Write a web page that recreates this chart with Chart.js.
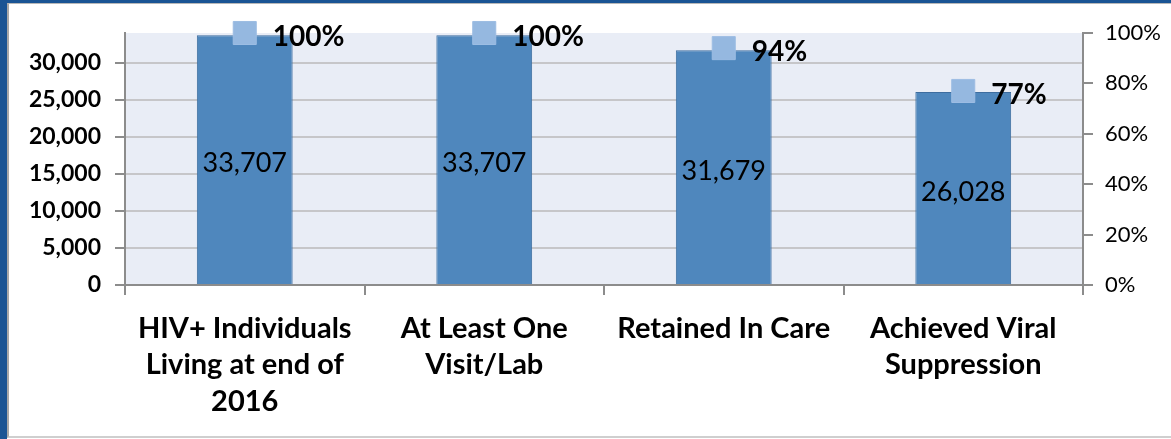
<!DOCTYPE html>
<html>
<head>
<meta charset="utf-8">
<script src="https://cdn.jsdelivr.net/npm/chart.js@4/dist/chart.umd.min.js"></script>
<style>
    body { margin: 0; background: #fff; }
    #frame { position: absolute; left: 0; top: 0; width: 1171px; height: 439px; box-sizing: border-box;
             border-left: 7px solid #1a5494; border-top: 3px solid #1a5494; }
    #inner { position: absolute; left: 0; top: 0; right: 0; bottom: 1px; box-sizing: border-box;
             border-left: 2px solid #a8a8a8; border-top: 1px solid #b8b8b8; border-bottom: 2px solid #cfcfcf; }
    #wrap { position: absolute; left: 0; top: 0; width: 1171px; height: 439px; }
</style>
</head>
<body>
<div id="frame"><div id="inner"></div></div>
<div id="wrap"><canvas id="cascade-chart"></canvas></div>
<script>
const categories = [
    ['HIV+ Individuals', 'Living at end of', '2016'],
    ['At Least One', 'Visit/Lab'],
    ['Retained In Care'],
    ['Achieved Viral', 'Suppression']
];
const patientCounts = [33707, 33707, 31679, 26028];
const percentOfTotal = [1.00, 1.00, 0.94, 0.77];
const countTicks = [0, 5000, 10000, 15000, 20000, 25000, 30000];
const percentTicks = [0, 0.2, 0.4, 0.6, 0.8, 1.0];

const FONT = 'Lato, "Open Sans", sans-serif';

const plotBackground = {
    id: 'plotBackground',
    beforeDraw(chart) {
        const { ctx, chartArea: a } = chart;
        ctx.save();
        ctx.fillStyle = '#e9edf6';
        ctx.fillRect(a.left, a.top, a.right - a.left, a.bottom - a.top);
        ctx.restore();
    }
};

const valueLabels = {
    id: 'valueLabels',
    afterDatasetsDraw(chart) {
        const ctx = chart.ctx;
        ctx.save();
        ctx.fillStyle = '#000';
        ctx.textBaseline = 'middle';

        chart.getDatasetMeta(1).data.forEach((bar, i) => {
            ctx.font = '27px ' + FONT;
            ctx.textAlign = 'center';
            ctx.fillText(patientCounts[i].toLocaleString('en-US'), bar.x, (bar.y + bar.base) / 2 + 4);
        });

        chart.getDatasetMeta(0).data.forEach((pt, i) => {
            ctx.font = 'bold 28px ' + FONT;
            ctx.textAlign = 'left';
            ctx.fillText(Math.round(percentOfTotal[i] * 100) + '%', pt.x + 28, pt.y + 4);
        });
        ctx.restore();
    }
};

new Chart(document.getElementById('cascade-chart'), {
    type: 'bar',
    data: {
        labels: categories,
        datasets: [{
            type: 'line',
            label: 'Percent',
            data: percentOfTotal,
            yAxisID: 'y1',
            showLine: false,
            clip: false,
            pointStyle: 'rect',
            pointRadius: 16.3,
            pointHoverRadius: 16.3,
            pointBackgroundColor: '#95b8e0',
            pointBorderColor: '#9dbde3',
            pointBorderWidth: 1,
            order: 0
        }, {
            label: 'Patients',
            data: patientCounts,
            yAxisID: 'y',
            backgroundColor: '#4f87bd',
            borderColor: '#3d6d9f',
            borderWidth: 1,
            categoryPercentage: 1.0,
            barPercentage: 0.4,
            order: 1
        }]
    },
    options: {
        responsive: true,
        maintainAspectRatio: false,
        animation: false,
        layout: { padding: { top: 33, left: 0, right: 0, bottom: 0 } },
        plugins: {
            legend: { display: false },
            tooltip: { enabled: false }
        },
        scales: {
            x: {
                offset: true,
                grid: { drawOnChartArea: false, offset: true, tickLength: 10, color: '#8c8c8c', lineWidth: 2 },
                border: { color: '#8c8c8c', width: 2 },
                ticks: {
                    color: '#000',
                    padding: 15,
                    maxRotation: 0,
                    autoSkip: false,
                    font: { family: FONT, size: 29, weight: 'bold', lineHeight: 1.26 }
                },
                afterFit(scale) { scale.height = 154; }
            },
            y: {
                position: 'left',
                min: 0,
                max: 34000,
                afterBuildTicks(scale) { scale.ticks = countTicks.map(v => ({ value: v })); },
                grid: { color: '#c6c6c9', lineWidth: 2, tickLength: 10, tickColor: '#8c8c8c' },
                border: { color: '#8c8c8c', width: 2 },
                ticks: {
                    color: '#000',
                    padding: 14,
                    font: { family: FONT, size: 23, weight: 'bold' },
                    callback: v => v.toLocaleString('en-US')
                },
                afterFit(scale) { scale.width = 125; }
            },
            y1: {
                position: 'right',
                min: 0,
                max: 1,
                afterBuildTicks(scale) { scale.ticks = percentTicks.map(v => ({ value: v })); },
                grid: { drawOnChartArea: false, tickLength: 10, color: '#8c8c8c', lineWidth: 2 },
                border: { color: '#8c8c8c', width: 2 },
                ticks: {
                    color: '#000',
                    padding: 12,
                    font: { family: FONT, size: 22 },
                    callback: v => Math.round(v * 100) + '%'
                },
                afterFit(scale) { scale.width = 88; }
            }
        }
    },
    plugins: [plotBackground, valueLabels]
});
</script>
</body>
</html>
